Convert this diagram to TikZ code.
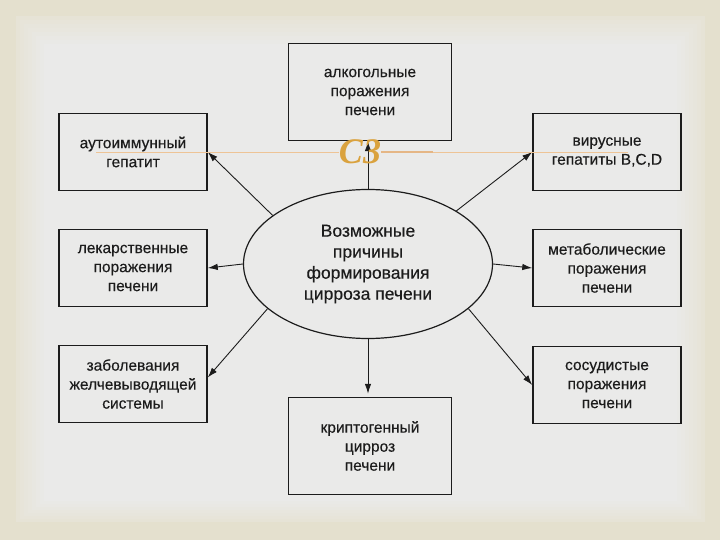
\documentclass[tikz,border=0pt]{standalone}
\usepackage{fontspec}
\setmainfont{Liberation Sans}[FakeBold=0.35]
\newfontfamily\ornamentfont{Liberation Serif}
\usetikzlibrary{shapes.geometric,arrows.meta}

\definecolor{frameout}{RGB}{228,224,206}
\definecolor{sheet}{RGB}{234,234,233}
\definecolor{ink}{RGB}{28,28,28}
\definecolor{ornament}{RGB}{218,162,62}
\definecolor{ornamentline}{RGB}{238,196,150}

\tikzset{
  causebox/.style={draw=ink,line width=1.5pt,minimum width=148pt,minimum height=77pt,
    align=center,text=ink,font=\fontsize{15.5}{19}\selectfont},
  bigcausebox/.style={causebox,minimum width=163pt,minimum height=97pt},
  hubbox/.style={ellipse,draw=ink,line width=1.2pt,minimum width=249pt,minimum height=149pt,
    inner sep=0pt,align=center,text=ink,font=\fontsize{17.5}{21}\selectfont},
  link/.style={draw=ink,line width=0.9pt,-{Latex[length=10pt,width=6.5pt]}}
}

\begin{document}
\begin{tikzpicture}[x=1pt,y=-1pt]
% slide background, soft edge
\fill[frameout] (0,0) rectangle (720,540);
\foreach \i in {0,...,7}
  \fill[sheet!\fpeval{30+10*\i}!frameout] (16+4*\i,16+4*\i) rectangle (705-4*\i,522-3*\i);
\fill[sheet] (48,47) rectangle (672,497);
\useasboundingbox (0,0) rectangle (720,540);

% centre
\node[hubbox] (hub) at (368,264) {Возможные\\причины\\формирования\\цирроза печени};

% causes
\node[bigcausebox] (alcohol) at (370,92) {алкогольные\\поражения\\печени};
\node[causebox] (autoimmune) at (133,152) {аутоиммунный\\гепатит};
\node[causebox] (viral) at (607,152) {вирусные\\гепатиты B,C,D};
\node[causebox] (drug) at (133,268) {лекарственные\\поражения\\печени};
\node[causebox] (metabolic) at (607,268) {метаболические\\поражения\\печени};
\node[causebox] (bile) at (133,384) {заболевания\\желчевыводящей\\системы};
\node[causebox] (vascular) at (607,385) {сосудистые\\поражения\\печени};
\node[bigcausebox] (crypto) at (370,446) {криптогенный\\цирроз\\печени};

% arrows
\draw[link] (hub.north) -- (hub.north |- alcohol.south);
\draw[link] (hub.153) -- (autoimmune.east);
\draw[link] (hub.31) -- (viral.west);
\draw[link] (hub.west) -- (drug.east);
\draw[link] (hub.east) -- (metabolic.west);
\draw[link] (hub.204) -- (bile.5);
\draw[link] (hub.336) -- (vascular.west);
\draw[link,shorten >=3pt] (hub.south) -- (hub.south |- crypto.north);

% template ornament
\node[text=ornament,font=\ornamentfont\bfseries\itshape\fontsize{36}{36}\selectfont,inner sep=0pt]
  (mark) at (360,152) {C3};
\coordinate (lineL) at (96,152);
\coordinate (lineR) at (628,152);
\draw[ornamentline,line width=0.8pt] (lineL) -- (mark.west);
\draw[ornamentline,line width=0.8pt] (mark.east) -- (lineR);
\draw[ornamentline!80!brown,line width=1.6pt] (mark.east) -- ++(52,0);
\end{tikzpicture}
\end{document}
